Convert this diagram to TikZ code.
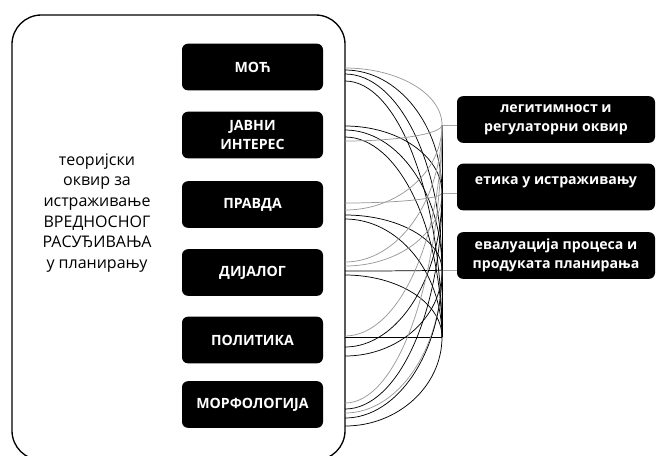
\documentclass[tikz,border=0pt]{standalone}
\usepackage{fontspec}
\setmainfont{Open Sans}
\newcommand\lnk[3]{\draw[#3] (345,#1) .. controls (398,#1) and (442,{#2+0.5523*(#1-#2)}) .. (442,#2);}
\begin{document}
\begin{tikzpicture}[x=0.75pt,y=-0.75pt,
  lbox/.style={fill=black, rounded corners=4.5pt, minimum width=105.75pt, minimum height=35pt,
    text=white, font=\bfseries\fontsize{10.6}{14}\selectfont, align=center, inner sep=0pt},
  rbox/.style={fill=black, rounded corners=4.5pt, minimum width=148.5pt, minimum height=35pt,
    text=white, font=\bfseries\fontsize{10.6}{14}\selectfont, align=center, inner sep=0pt},
  rtext/.style={text=white, font=\bfseries\fontsize{10.6}{14}\selectfont, inner sep=0pt},
  link/.style={line width=0.55pt, black},
  glink/.style={line width=0.55pt, black!40},
  stub/.style={line width=0.7pt, black!35}]
\useasboundingbox (0,0) rectangle (656,455);
\draw[line width=1pt, rounded corners=22pt] (12,15) rectangle (345,460);
\node[align=center, font=\fontsize{12}{15.5}\selectfont] (frame) at (97,213)
  {теоријски\\оквир за\\истраживање\\ВРЕДНОСНОГ\\РАСУЂИВАЊА\\у планирању};
\node[lbox] (moc) at (252.5,67) {МОЋ};
\node[lbox] (jav) at (252.5,135) {ЈАВНИ\\ИНТЕРЕС};
\node[lbox] (pra) at (252.5,204.5) {ПРАВДА};
\node[lbox] (dij) at (252.5,272.5) {ДИЈАЛОГ};
\node[lbox] (pol) at (252.5,340) {ПОЛИТИКА};
\node[lbox] (mor) at (252.5,404.5) {МОРФОЛОГИЈА};
\node[rbox] (r1) at (556,119.5) {легитимност и\\регулаторни оквир};
\node[rbox] (r2) at (556,187) {};
\node[rtext] (r2t) at (556,182) {етика у истраживању};
\node[rbox] (r3) at (556,255.5) {евалуација процеса и\\продуката планирања};
\coordinate (t1) at (442,125);
\coordinate (t2) at (442,193);
\coordinate (t3) at (442,270);
\coordinate (t4) at (442,337);
\draw[stub] (t1) -- (r1.west |- t1);
\draw[stub] (t2) -- (r2.west |- t2);
\draw[stub] (t3) -- (r3.west |- t3);
\draw[link] (t1) -- (t4);
% MOC
\lnk{68}{125}{glink}\lnk{70}{193}{link}\lnk{74}{270}{link}\lnk{81}{337}{link}
% JAVNI
\lnk{126}{193}{link}\lnk{130}{270}{link}\lnk{137}{337}{link}\lnk{141}{125}{glink}
% PRAVDA
\lnk{203}{193}{glink}\lnk{210}{125}{glink}\lnk{215}{270}{link}\lnk{219}{337}{link}
% DIJALOG
\lnk{262}{125}{glink}\lnk{266}{193}{glink}\lnk{271}{270}{link}\lnk{275}{337}{link}
% POLITIKA
\lnk{336}{125}{glink}\lnk{337}{337}{link}\lnk{347}{193}{link}\lnk{356}{270}{link}
% MORF
\lnk{403}{125}{glink}\lnk{409}{193}{link}\lnk{413}{270}{glink}\lnk{418}{270}{link}\lnk{426}{337}{link}
\end{tikzpicture}
\end{document}
